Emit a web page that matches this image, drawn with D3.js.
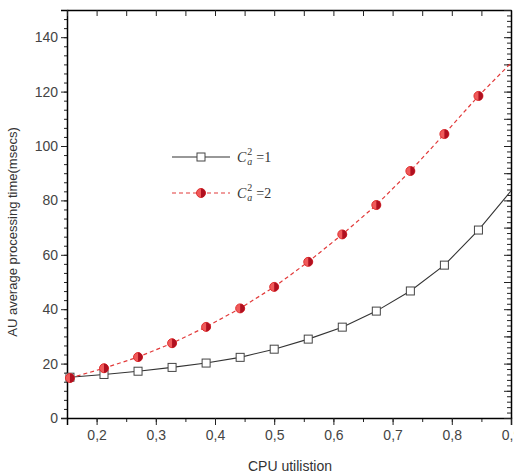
<!DOCTYPE html>
<html>
<head>
<meta charset="utf-8">
<script src="https://cdn.jsdelivr.net/npm/d3@7"></script>
<style>
  body { margin: 0; background: #fff; }
  svg { display: block; }
  .tick text { font-family: "Liberation Sans Narrow", "Liberation Sans", Arial, sans-serif; }
</style>
</head>
<body>
<svg id="chart" width="514" height="475"></svg>
<script>
// data
const utilisation = [0.155, 0.2125, 0.27, 0.3275, 0.385, 0.4425, 0.5, 0.5575, 0.615, 0.6725, 0.73, 0.7875, 0.845, 0.9]
const ca1 = [15, 16, 17.2, 18.6, 20.2, 22.3, 25.3, 29, 33.4, 39.3, 46.7, 56.2, 69.1, 83.5]
const ca2 = [14.7, 18.3, 22.4, 27.5, 33.5, 40.3, 48.2, 57.4, 67.5, 78.3, 90.8, 104.4, 118.4, 130.5]
const xTicks = [0.2, 0.3, 0.4, 0.5, 0.6, 0.7, 0.8, 0.9]
const yTicks = [0, 20, 40, 60, 80, 100, 120, 140]

const svg = d3.select("#chart")
const m = { left: 67, right: 3, top: 10, bottom: 57 }
const w = 514 - m.left - m.right
const h = 475 - m.top - m.bottom

const g = svg.append("g").attr("transform", `translate(${m.left},${m.top})`)

// scales
const x = d3.scaleLinear().domain([0.15, 0.9]).range([0, w])
const y = d3.scaleLinear().domain([0, 150]).range([h, 0])

const fmt = d => d3.format(".1f")(d).replace(".", ",")
const minorX = d3.range(0.15, 0.9001, 0.05)
const minorY = d3.range(0, 150.001, 20 / 6)

// bottom axis: minor then major
g.append("g").attr("transform", `translate(0,${h})`)
  .call(d3.axisBottom(x).tickValues(minorX).tickSize(4).tickFormat(""))
  .call(a => a.select(".domain").remove())
g.append("g").attr("transform", `translate(0,${h})`)
  .call(d3.axisBottom(x).tickValues(xTicks).tickSize(7).tickPadding(5).tickFormat(fmt))
  .call(a => a.selectAll("text").attr("font-size", 14).attr("fill", "#444"))
  .call(a => a.select(".domain").attr("stroke-width", 1.5))

// left axis
g.append("g")
  .call(d3.axisLeft(y).tickValues(minorY).tickSize(3).tickFormat(""))
  .call(a => a.select(".domain").remove())
g.append("g")
  .call(d3.axisLeft(y).tickValues(yTicks).tickSize(6).tickPadding(3))
  .call(a => a.selectAll("text").attr("font-size", 14).attr("fill", "#444"))
  .call(a => a.select(".domain").attr("stroke-width", 1.5))

// top and right mirror axes, ticks inward
g.append("g")
  .call(d3.axisBottom(x).tickValues(minorX).tickSize(6).tickSizeOuter(0).tickFormat(""))
  .call(a => a.select(".domain").attr("stroke-width", 1.5))
g.append("g").attr("transform", `translate(${w},0)`)
  .call(d3.axisLeft(y).tickValues(d3.range(0, 150.001, 2)).tickSize(4).tickSizeOuter(0).tickFormat(""))
  .call(a => a.select(".domain").attr("stroke-width", 1.5))
g.append("g").attr("transform", `translate(${w},0)`)
  .call(d3.axisLeft(y).tickValues(d3.range(0, 150.001, 10)).tickSize(7).tickSizeOuter(0).tickFormat(""))
  .call(a => a.select(".domain").remove())

g.selectAll(".tick line").attr("stroke", "#222")

// lines
const line = d3.line().x((d, i) => x(utilisation[i])).y(d => y(d))

g.append("path").datum(ca1)
  .attr("d", line).attr("fill", "none").attr("stroke", "#333").attr("stroke-width", 1.1)
g.append("path").datum(ca2)
  .attr("d", line).attr("fill", "none").attr("stroke", "#e23a3a")
  .attr("stroke-width", 1.2).attr("stroke-dasharray", "4,3")

// markers
const drawSquare = (sel, cx, cy) => sel.append("rect")
  .attr("x", cx - 4).attr("y", cy - 4).attr("width", 8).attr("height", 8)
  .attr("fill", "#fff").attr("stroke", "#444").attr("stroke-width", 1)
const drawHalf = (sel, cx, cy) => {
  sel.append("circle").attr("cx", cx).attr("cy", cy).attr("r", 4.5)
    .attr("fill", "#f05a5a").attr("stroke", "#e03030").attr("stroke-width", 1)
  sel.append("path")
    .attr("d", `M${cx},${cy - 4.5} A4.5,4.5 0 0,1 ${cx},${cy + 4.5} Z`)
    .attr("fill", "#b01020")
}

ca1.forEach((v, i) => { if (i < ca1.length - 1) drawSquare(g, x(utilisation[i]), y(v)) })
ca2.forEach((v, i) => { if (i < ca2.length - 1) drawHalf(g, x(utilisation[i]), y(v)) })

// legend
const lg = svg.append("g")
lg.append("line").attr("x1", 172).attr("x2", 230).attr("y1", 157).attr("y2", 157)
  .attr("stroke", "#333").attr("stroke-width", 1.1)
drawSquare(lg, 201, 157)
lg.append("line").attr("x1", 172).attr("x2", 230).attr("y1", 193).attr("y2", 193)
  .attr("stroke", "#e23a3a").attr("stroke-width", 1.2).attr("stroke-dasharray", "4,3")
drawHalf(lg, 201, 193)

const legendText = (yy, val) => {
  const t = lg.append("text").attr("x", 237).attr("y", yy + 5)
    .attr("font-family", "Liberation Serif, serif").attr("font-size", 14).attr("fill", "#333")
  t.append("tspan").attr("font-style", "italic").text("C")
  t.append("tspan").attr("font-style", "italic").attr("font-size", 10).attr("dx", 1).attr("dy", 3).text("a")
  t.append("tspan").attr("font-size", 10).attr("dx", -5).attr("dy", -10).text("2")
  t.append("tspan").attr("dx", 4).attr("dy", 7).text("=" + val)
}
legendText(157, 1)
legendText(193, 2)

// axis titles
svg.append("text").attr("x", 290).attr("y", 471).attr("text-anchor", "middle")
  .attr("font-family", "Liberation Sans, Arial, sans-serif").attr("font-size", 14).attr("fill", "#333")
  .text("CPU utilistion")
svg.append("text").attr("transform", "translate(17,232) rotate(-90)").attr("text-anchor", "middle")
  .attr("font-family", "Liberation Sans, Arial, sans-serif").attr("font-size", 13).attr("fill", "#333")
  .text("AU average processing time(msecs)")
</script>
</body>
</html>
